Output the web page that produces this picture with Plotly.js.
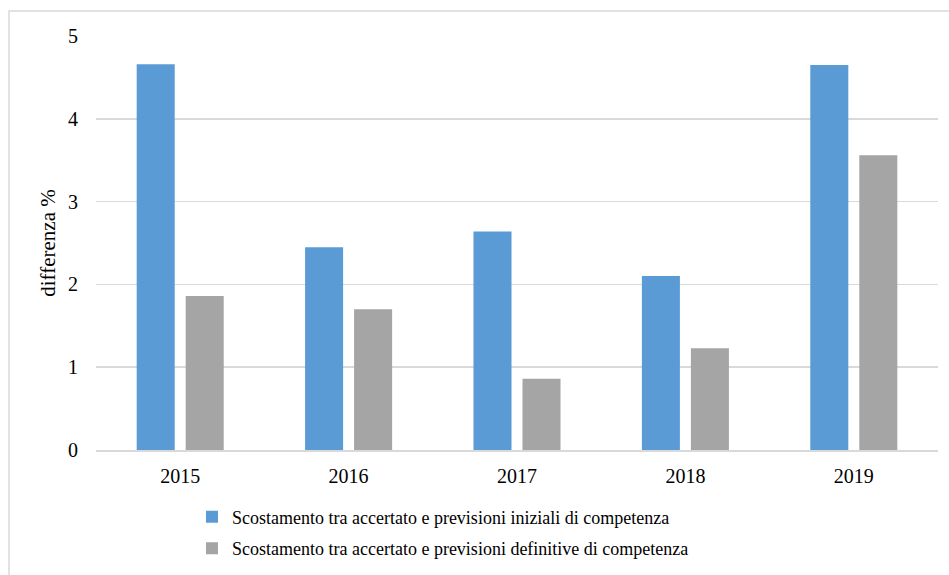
<!DOCTYPE html>
<html>
<head>
<meta charset="utf-8">
<script src="https://cdn.plot.ly/plotly-3.0.1.min.js"></script>
<style>html,body{margin:0;padding:0;background:#fff;}#chart{width:949px;height:575px;}</style>
</head>
<body>
<div id="chart"></div>
<script>
const years = ['2015', '2016', '2017', '2018', '2019'];
const iniziali = [4.66, 2.45, 2.64, 2.10, 4.65];
const definitive = [1.86, 1.70, 0.86, 1.23, 3.56];
const seriesNames = [
  'Scostamento tra accertato e previsioni iniziali di competenza',
  'Scostamento tra accertato e previsioni definitive di competenza'
];
const yTicks = [0, 1, 2, 3, 4, 5];

const font = 'Liberation Serif, Times New Roman, serif';

const traces = [
  {type: 'bar', x: years, y: iniziali, name: seriesNames[0], marker: {color: '#5B9BD5'}, legendgroup: 'a'},
  {type: 'bar', x: years, y: definitive, name: seriesNames[1], marker: {color: '#A5A5A5'}, legendgroup: 'b'}
];

const layout = {
  width: 949, height: 575,
  margin: {l: 96, r: 11, t: 36, b: 125, autoexpand: false},
  paper_bgcolor: '#fff', plot_bgcolor: '#fff',
  font: {family: font, color: '#000', size: 18},
  barmode: 'group', bargap: 0.418, bargroupgap: 0.224,
  showlegend: true,
  legend: {orientation: 'v', x: 0.114, xanchor: 'left', y: -0.1175, yanchor: 'top',
           font: {family: font, size: 18, color: '#000'}, traceorder: 'grouped', tracegroupgap: 5,
           bgcolor: 'rgba(0,0,0,0)'},
  xaxis: {type: 'category', showgrid: false, showline: true, linecolor: '#d9d9d9', linewidth: 1.5,
          ticks: '', ticklabelstandoff: 7, tickfont: {family: font, size: 20}},
  yaxis: {range: [0, 5], tickvals: yTicks, showgrid: true, gridcolor: '#d9d9d9', gridwidth: 1.5,
          zeroline: false, showline: false, ticks: '', ticklabelstandoff: 17,
          tickfont: {family: font, size: 20},
          title: {text: 'differenza %', font: {family: font, size: 21}, standoff: 6}},
  shapes: [{type: 'rect', xref: 'paper', yref: 'paper', x0: -0.1033, x1: 1.05, y0: -0.4, y1: 1.0604,
            line: {color: '#d9d9d9', width: 1.5}, fillcolor: 'rgba(0,0,0,0)', layer: 'below'}]
};

Plotly.newPlot('chart', traces, layout, {displayModeBar: false, staticPlot: true});
</script>
</body>
</html>
